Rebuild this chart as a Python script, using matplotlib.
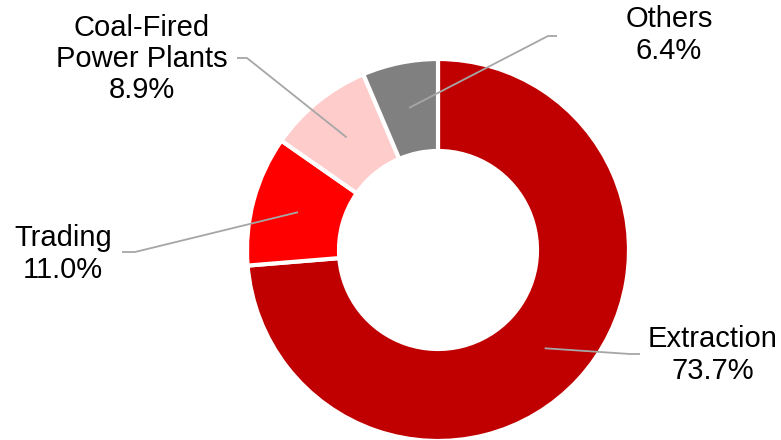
import numpy as np
import matplotlib
matplotlib.use("Agg")
import matplotlib.pyplot as plt

# data
segments = ["Extraction", "Trading", "Coal-Fired\nPower Plants", "Others"]
shares = [73.7, 11.0, 8.9, 6.4]
colors = ["#C00000", "#FF0000", "#FFCCCC", "#808080"]

# layout (pixel coords, y up): elbow of leader line, end of leader, label centre
elbows = [(630, 86), (135, 188), (247, 382), (548, 404)]
ends = [(640, 86), (122, 188), (237, 382), (557, 404)]
label_pos = [(713, 85), (63, 186), (142, 381), (669, 405)]

W, H = 781, 440
cx, cy = 438, 440 - 250
r_out, r_in = 191, 99

plt.rcParams["font.family"] = ["Liberation Sans", "DejaVu Sans"]

fig = plt.figure(figsize=(W / 100, H / 100), dpi=100)
ax = fig.add_axes([0, 0, 1, 1])

wedges, _ = ax.pie(shares, colors=colors, startangle=90, counterclock=False,
                   center=(cx, cy), radius=r_out, frame=True,
                   wedgeprops=dict(width=r_out - r_in, edgecolor="white", linewidth=3))
ax.set_xlim(0, W)
ax.set_ylim(0, H)
ax.set_aspect("equal")
ax.axis("off")

r_mid = (r_out + r_in) / 2
for w, name, val, elb, end, lp in zip(wedges, segments, shares, elbows, ends, label_pos):
    ang = np.deg2rad((w.theta1 + w.theta2) / 2)
    ax_pt = (cx + r_mid * np.cos(ang), cy + r_mid * np.sin(ang))
    ax.plot([ax_pt[0], elb[0], end[0]], [ax_pt[1], elb[1], end[1]],
            color="#A6A6A6", lw=1.3, solid_capstyle="butt", zorder=5)
    ax.text(lp[0], lp[1], name + "\n" + "{:.1f}%".format(val), ha="center", va="center",
            fontsize=21, color="black", linespacing=1.15)

fig.savefig("out.png", dpi=100)
